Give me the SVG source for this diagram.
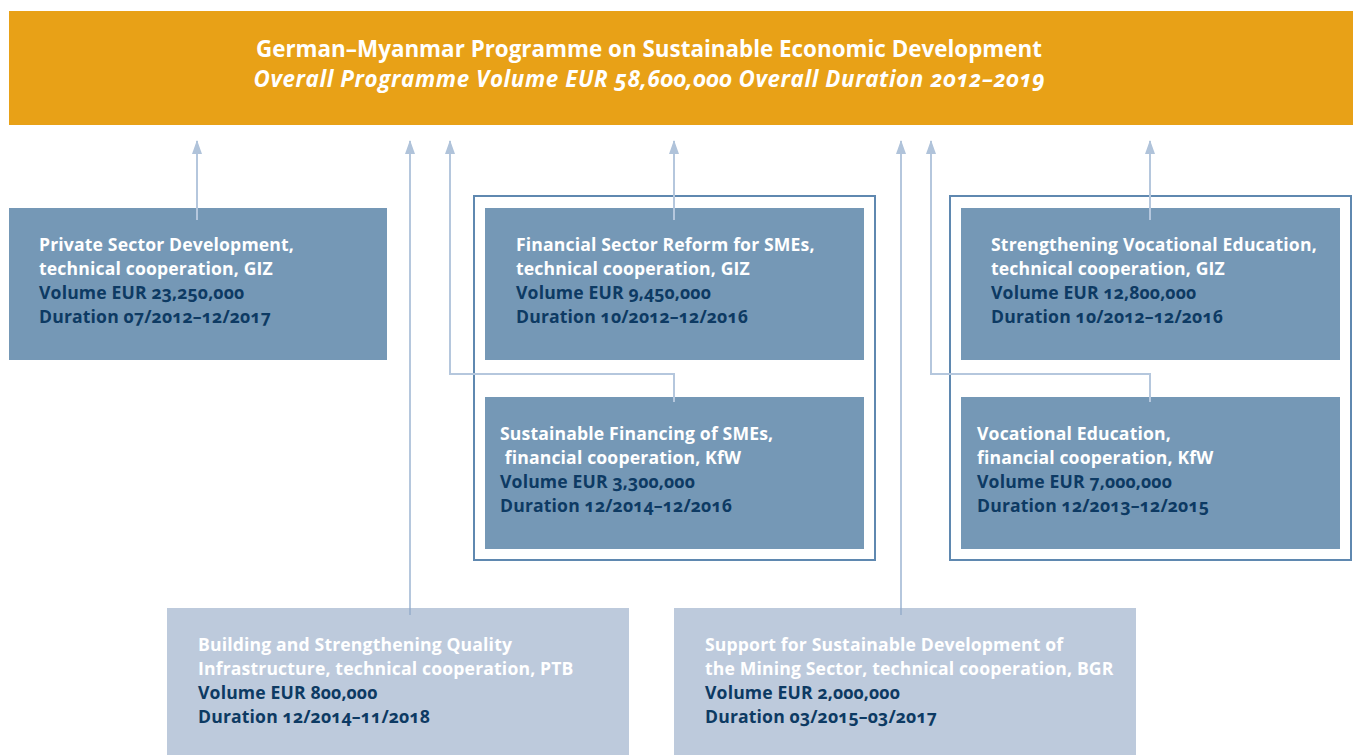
<svg xmlns="http://www.w3.org/2000/svg" width="1353" height="755" viewBox="0 0 1353 755">
<style>
  text { font-family: "Open Sans", "Liberation Sans", sans-serif; font-weight: bold; font-feature-settings: "onum"; }
  .hd { fill: #ffffff; font-size: 22.4px; }
  .it { font-style: italic; }
  .bx { font-size: 17.6px; letter-spacing: 0.15px; }
  .w { fill: #ffffff; }
  .d { fill: #0d3a63; }
  .dark { fill: #7598b6; }
  .light { fill: #bdcadc; }
  .grp { fill: none; stroke: #5f88b0; stroke-width: 2; }
  .conn { fill: none; stroke: #b5c7dd; stroke-width: 2; }
</style>
<defs>
  <marker id="ah" viewBox="0 0 14 10" refX="13" refY="5" markerWidth="14" markerHeight="10" markerUnits="userSpaceOnUse" orient="auto">
    <path d="M0,0 L14,5 L0,10 Z" fill="#b0c3da"/>
  </marker>
</defs>
<rect width="1353" height="755" fill="#ffffff"/>

<g id="header">
  <rect x="9" y="11" width="1344" height="114" fill="#e8a117"/>
  <text class="hd" x="649" y="57" text-anchor="middle" textLength="786" lengthAdjust="spacing">German–Myanmar Programme on Sustainable Economic Development</text>
  <text class="hd it" x="649" y="87" text-anchor="middle" textLength="791" lengthAdjust="spacing">Overall Programme Volume EUR 58,600,000 Overall Duration 2012–2019</text>
</g>

<g id="group-financial"><rect class="grp" x="474" y="196" width="401" height="364"/></g>
<g id="group-vocational"><rect class="grp" x="950" y="196" width="401" height="364"/></g>

<g id="connectors">
  <path class="conn" d="M197,220 V141" marker-end="url(#ah)"/>
  <path class="conn" d="M410,615 V141" marker-end="url(#ah)"/>
  <path class="conn" d="M674,220 V141" marker-end="url(#ah)"/>
  <path class="conn" d="M674,402 V374 H450 V141" marker-end="url(#ah)"/>
  <path class="conn" d="M901,615 V141" marker-end="url(#ah)"/>
  <path class="conn" d="M1150,220 V141" marker-end="url(#ah)"/>
  <path class="conn" d="M1150,402 V374 H931 V141" marker-end="url(#ah)"/>
</g>

<g id="private-sector">
  <rect class="dark" x="9" y="208" width="378" height="152"/>
  <rect x="196" y="208" width="2" height="12" fill="#b5c7dd"/>
  <text class="bx w" x="39" y="251">Private Sector Development,</text>
  <text class="bx w" x="39" y="275">technical cooperation, GIZ</text>
  <text class="bx d" x="39" y="299">Volume EUR 23,250,000</text>
  <text class="bx d" x="39" y="323">Duration 07/2012–12/2017</text>
</g>

<g id="financial-sector">
  <rect class="dark" x="485" y="208" width="379" height="152"/>
  <rect x="673" y="208" width="2" height="12" fill="#b5c7dd"/>
  <text class="bx w" x="516" y="251">Financial Sector Reform for SMEs,</text>
  <text class="bx w" x="516" y="275">technical cooperation, GIZ</text>
  <text class="bx d" x="516" y="299">Volume EUR 9,450,000</text>
  <text class="bx d" x="516" y="323">Duration 10/2012–12/2016</text>
</g>

<g id="sustainable-financing">
  <rect class="dark" x="485" y="397" width="379" height="152"/>
  <rect x="673" y="397" width="2" height="5" fill="#b5c7dd"/>
  <text class="bx w" x="500" y="440">Sustainable Financing of SMEs,</text>
  <text class="bx w" x="500" y="464" xml:space="preserve"> financial cooperation, KfW</text>
  <text class="bx d" x="500" y="488">Volume EUR 3,300,000</text>
  <text class="bx d" x="500" y="512">Duration 12/2014–12/2016</text>
</g>

<g id="vocational-giz">
  <rect class="dark" x="961" y="208" width="379" height="152"/>
  <rect x="1149" y="208" width="2" height="12" fill="#b5c7dd"/>
  <text class="bx w" x="991" y="251">Strengthening Vocational Education,</text>
  <text class="bx w" x="991" y="275">technical cooperation, GIZ</text>
  <text class="bx d" x="991" y="299">Volume EUR 12,800,000</text>
  <text class="bx d" x="991" y="323">Duration 10/2012–12/2016</text>
</g>

<g id="vocational-kfw">
  <rect class="dark" x="961" y="397" width="379" height="152"/>
  <rect x="1149" y="397" width="2" height="5" fill="#b5c7dd"/>
  <text class="bx w" x="977" y="440">Vocational Education,</text>
  <text class="bx w" x="977" y="464">financial cooperation, KfW</text>
  <text class="bx d" x="977" y="488">Volume EUR 7,000,000</text>
  <text class="bx d" x="977" y="512">Duration 12/2013–12/2015</text>
</g>

<g id="quality-infrastructure">
  <rect class="light" x="167" y="608" width="462" height="147"/>
  <rect x="409" y="608" width="2" height="7" fill="#9fb4cf"/>
  <text class="bx w" x="198" y="651">Building and Strengthening Quality</text>
  <text class="bx w" x="198" y="675">Infrastructure, technical cooperation, PTB</text>
  <text class="bx d" x="198" y="699">Volume EUR 800,000</text>
  <text class="bx d" x="198" y="723">Duration 12/2014–11/2018</text>
</g>

<g id="mining-sector">
  <rect class="light" x="674" y="608" width="462" height="147"/>
  <rect x="900" y="608" width="2" height="7" fill="#9fb4cf"/>
  <text class="bx w" x="705" y="651">Support for Sustainable Development of</text>
  <text class="bx w" x="705" y="675">the Mining Sector, technical cooperation, BGR</text>
  <text class="bx d" x="705" y="699">Volume EUR 2,000,000</text>
  <text class="bx d" x="705" y="723">Duration 03/2015–03/2017</text>
</g>
</svg>
